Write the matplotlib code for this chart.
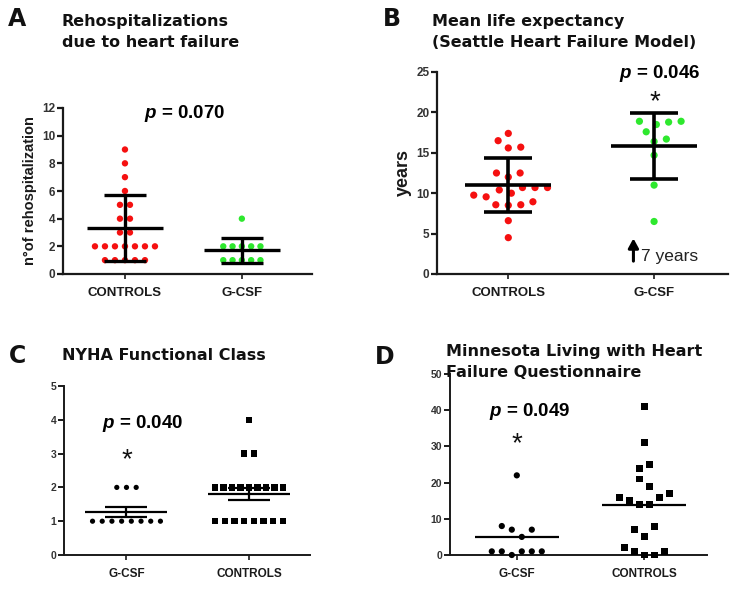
import numpy as np
import matplotlib
matplotlib.use("Agg")
import matplotlib.pyplot as plt

plt.rcParams['font.family'] = ['Liberation Sans', 'DejaVu Sans']
plt.rcParams['mathtext.fontset'] = 'custom'
plt.rcParams['mathtext.it'] = 'Liberation Sans:italic:bold'
plt.rcParams['mathtext.rm'] = 'Liberation Sans:bold'

# ---------------- data ----------------
# A: rehospitalizations due to heart failure (mean +/- SD)
a_categories = ["CONTROLS", "G-CSF"]
a_controls = [9, 8, 7, 6, 5, 5, 4, 4, 3, 3, 2, 2, 2, 2, 2, 2, 2, 1, 1, 1, 1, 1]
a_gcsf = [4, 2, 2, 2, 2, 2, 1, 1, 1, 1, 1]
a_yticks = [0, 2, 4, 6, 8, 10, 12]

# B: mean life expectancy, years (mean +/- SD)
b_categories = ["CONTROLS", "G-CSF"]
b_controls = [17.4, 16.5, 15.7, 15.6, 12.5, 12.5, 12.0, 10.0, 9.55, 10.7, 10.7,
              10.4, 10.7, 9.76, 8.94, 8.57, 8.5, 8.57, 6.6, 4.5]
b_gcsf = [18.9, 18.5, 18.8, 18.9, 17.6, 16.7, 16.4, 14.7, 11.0, 6.5]
b_yticks = [0, 5, 10, 15, 20, 25]

# C: NYHA functional class (mean +/- SEM)
c_categories = ["G-CSF", "CONTROLS"]
c_gcsf = [2, 2, 2, 1, 1, 1, 1, 1, 1, 1, 1]
c_controls = [4, 3, 3, 2, 2, 2, 2, 2, 2, 2, 2, 2, 1, 1, 1, 1, 1, 1, 1, 1]
c_yticks = [0, 1, 2, 3, 4, 5]

# D: Minnesota Living with Heart Failure Questionnaire (mean)
d_categories = ["G-CSF", "CONTROLS"]
d_gcsf = [22, 8, 7, 5, 7, 1, 1, 0, 1, 1, 1]
d_controls = [41, 31, 24, 25, 21, 19, 16, 15, 14, 14, 16, 17, 7, 5, 8, 2, 1, 0, 0, 1]
d_yticks = [0, 10, 20, 30, 40, 50]

p_texts = ["0.070", "0.046", "0.040", "0.049"]

RED = '#f51010'
GREEN = '#2ee82e'
W, H = 735, 592

fig = plt.figure(figsize=(W / 100, H / 100), dpi=100)
fig.patch.set_facecolor('white')


def make_axes(left, right, top, bottom):
    return fig.add_axes([left / W, 1 - bottom / H, (right - left) / W, (bottom - top) / H])


def px_scale(ax):
    bb = ax.get_position()
    x0, x1 = ax.get_xlim()
    y0, y1 = ax.get_ylim()
    return bb.width * W / (x1 - x0), bb.height * H / (y1 - y0)


def row_offsets(vals, bin_w, spacing_px, max_w_px, pxx):
    vals = np.asarray(vals, dtype=float)
    order = np.argsort(vals, kind='stable')
    groups = []
    cur = [order[0]]
    start = vals[order[0]]
    for i in order[1:]:
        if vals[i] - start >= bin_w:
            groups.append(cur)
            cur = [i]
            start = vals[i]
        else:
            cur.append(i)
    groups.append(cur)
    off = np.zeros(len(vals))
    for g in groups:
        g = sorted(g)
        n = len(g)
        sp = spacing_px if n < 2 else min(spacing_px, max_w_px / (n - 1))
        for k, i in enumerate(g):
            off[i] = (k - (n - 1) / 2) * sp / pxx
    return off


def swarm_offsets(vals, d_px, pxx, pxy):
    vals = np.asarray(vals, dtype=float)
    order = np.argsort(vals, kind='stable')
    placed = []
    off = np.zeros(len(vals))
    for i in order:
        y = vals[i] * pxy
        neigh = [(x, yy) for x, yy in placed if abs(yy - y) < d_px]
        cands = [0.0]
        for x, yy in neigh:
            dx = np.sqrt(d_px ** 2 - (yy - y) ** 2)
            cands += [x - dx, x + dx]
        cands = sorted(cands, key=lambda c: (abs(c), -c))
        chosen = cands[-1]
        for c in cands:
            if all((c - x) ** 2 + (yy - y) ** 2 >= d_px ** 2 - 1e-6 for x, yy in neigh):
                chosen = c
                break
        off[i] = chosen / pxx
        placed.append((chosen, y))
    return off


def style_axes(ax, yticks, cats, ylim, xlim, tick_fs, cat_fs, lw=1.6):
    ax.set_xlim(*xlim)
    ax.set_ylim(*ylim)
    for s in ['top', 'right']:
        ax.spines[s].set_visible(False)
    for s in ['left', 'bottom']:
        ax.spines[s].set_linewidth(lw)
        ax.spines[s].set_color('#1a1a1a')
    ax.set_yticks(yticks)
    ax.set_yticklabels([str(t) for t in yticks], fontsize=tick_fs, fontweight='bold', color='#333333')
    ax.set_xticks(range(len(cats)))
    ax.set_xticklabels(cats, fontsize=cat_fs, fontweight='bold', color='#1a1a1a')
    ax.tick_params(axis='y', length=4, width=lw, pad=1.5, color='#1a1a1a')
    ax.tick_params(axis='x', length=3.5, width=1.2, pad=6, color='#1a1a1a')
    ax.patch.set_alpha(0)


def mean_bar(ax, xc, vals, pxx, mean_half_px, cap_half_px, err, lw):
    vals = np.asarray(vals, dtype=float)
    m = vals.mean()
    ax.plot([xc - mean_half_px / pxx, xc + mean_half_px / pxx], [m, m], color='black', lw=lw,
            solid_capstyle='butt', zorder=4)
    if err is not None:
        lo, hi = m - err, m + err
        ax.plot([xc, xc], [lo, hi], color='black', lw=lw, solid_capstyle='butt', zorder=4)
        for v in (lo, hi):
            ax.plot([xc - cap_half_px / pxx, xc + cap_half_px / pxx], [v, v], color='black', lw=lw,
                    solid_capstyle='butt', zorder=4)


def ftext(x, y, s, **kw):
    fig.text(x / W, 1 - y / H, s, **kw)


TITLE = dict(fontfamily='DejaVu Sans', fontweight='bold', fontsize=11.5, va='center', ha='left',
             linespacing=1.55, color='#111111')
LETTER = dict(fontfamily='DejaVu Sans', fontweight='bold', fontsize=17, va='center', ha='center',
              color='#111111')
PTXT = dict(fontweight='bold', fontsize=13.5, ha='center', va='center', color='black')

# ---------------- Panel A ----------------
axA = make_axes(63, 312, 108, 274)
style_axes(axA, a_yticks, a_categories, (0, 12), (-0.53, 1.6), 8.5, 9.5)
pxx, pxy = px_scale(axA)
for k, (vals, col) in enumerate([(a_controls, RED), (a_gcsf, GREEN)]):
    sp = 10 if k == 0 else 9.3
    off = row_offsets(vals, 0.5, sp, 70, pxx)
    axA.scatter(k + off, vals, s=21, color=col, edgecolors='none', zorder=3, clip_on=False)
    mean_bar(axA, k, vals, pxx, 38, 21, np.std(vals, ddof=1), 2.4)
axA.set_ylabel("n°of rehospitalization", fontsize=10.5, fontweight='bold', color='#1a1a1a', labelpad=4)
ftext(17, 19, "A", **LETTER)
ftext(62, 32, "Rehospitalizations\ndue to heart failure", **TITLE)
ftext(185, 113, r"$p$ = " + p_texts[0], **PTXT)

# ---------------- Panel B ----------------
axB = make_axes(437, 728, 72, 274)
style_axes(axB, b_yticks, b_categories, (0, 25), (-0.489, 1.507), 8.5, 9.5)
pxx, pxy = px_scale(axB)
for k, (vals, col) in enumerate([(b_controls, RED), (b_gcsf, GREEN)]):
    off = swarm_offsets(vals, 12.5, pxx, pxy)
    axB.scatter(k + off, vals, s=27, color=col, edgecolors='none', zorder=3, clip_on=False)
    mean_bar(axB, k, vals, pxx, 43, 24, np.std(vals, ddof=1), 2.6)
axB.set_ylabel("years", fontsize=13, fontweight='bold', color='#1a1a1a', labelpad=3)
ftext(392, 19, "B", **LETTER)
ftext(432, 32, "Mean life expectancy\n(Seattle Heart Failure Model)", **TITLE)
ftext(660, 73, r"$p$ = " + p_texts[1], **PTXT)
ftext(655, 102, "*", fontsize=20, ha='center', va='center', color='#111111')
axB.annotate("", xy=(0.675, 0.19), xycoords='axes fraction', xytext=(0.675, 0.05),
             arrowprops=dict(arrowstyle='-|>,head_width=0.3,head_length=0.55', color='black', lw=2.2))
axB.text(0.70, 0.085, "7 years", transform=axB.transAxes, fontsize=12.5, ha='left', va='center',
         color='#222222')

# ---------------- Panel C ----------------
axC = make_axes(64, 310, 386, 555)
style_axes(axC, c_yticks, c_categories, (0, 5), (-0.51, 1.498), 7.5, 8.5, lw=1.4)
pxx, pxy = px_scale(axC)
for k, (vals, mk, sz) in enumerate([(c_gcsf, 'o', 14), (c_controls, 's', 20)]):
    off = row_offsets(vals, 0.5, 9.7, 68, pxx)
    axC.scatter(k + off, vals, s=sz, marker=mk, color='black', edgecolors='none', zorder=3, clip_on=False)
    sem = np.std(vals, ddof=1) / np.sqrt(len(vals))
    mean_bar(axC, k, vals, pxx, 41, 21, sem, 1.6)
ftext(17, 356, "C", **LETTER)
ftext(62, 356, "NYHA Functional Class", **TITLE)
ftext(143, 423, r"$p$ = " + p_texts[2], **PTXT)
ftext(127, 460, "*", fontsize=20, ha='center', va='center', color='#111111')

# ---------------- Panel D ----------------
axD = make_axes(450, 707, 374, 555)
style_axes(axD, d_yticks, d_categories, (0, 50), (-0.524, 1.492), 7.5, 8.5, lw=1.4)
pxx, pxy = px_scale(axD)
for k, (vals, mk, sz) in enumerate([(d_gcsf, 'o', 20), (d_controls, 's', 25)]):
    off = row_offsets(vals, 5, 10, 70, pxx)
    axD.scatter(k + off, vals, s=sz, marker=mk, color='black', edgecolors='none', zorder=3, clip_on=False)
    mean_bar(axD, k, vals, pxx, 42, 0, None, 1.6)
ftext(385, 357, "D", **LETTER)
ftext(446, 362, "Minnesota Living with Heart\nFailure Questionnaire", **TITLE)
ftext(530, 411, r"$p$ = " + p_texts[3], **PTXT)
ftext(517, 444, "*", fontsize=20, ha='center', va='center', color='#111111')

fig.savefig("out.png", dpi=100, facecolor='white')
